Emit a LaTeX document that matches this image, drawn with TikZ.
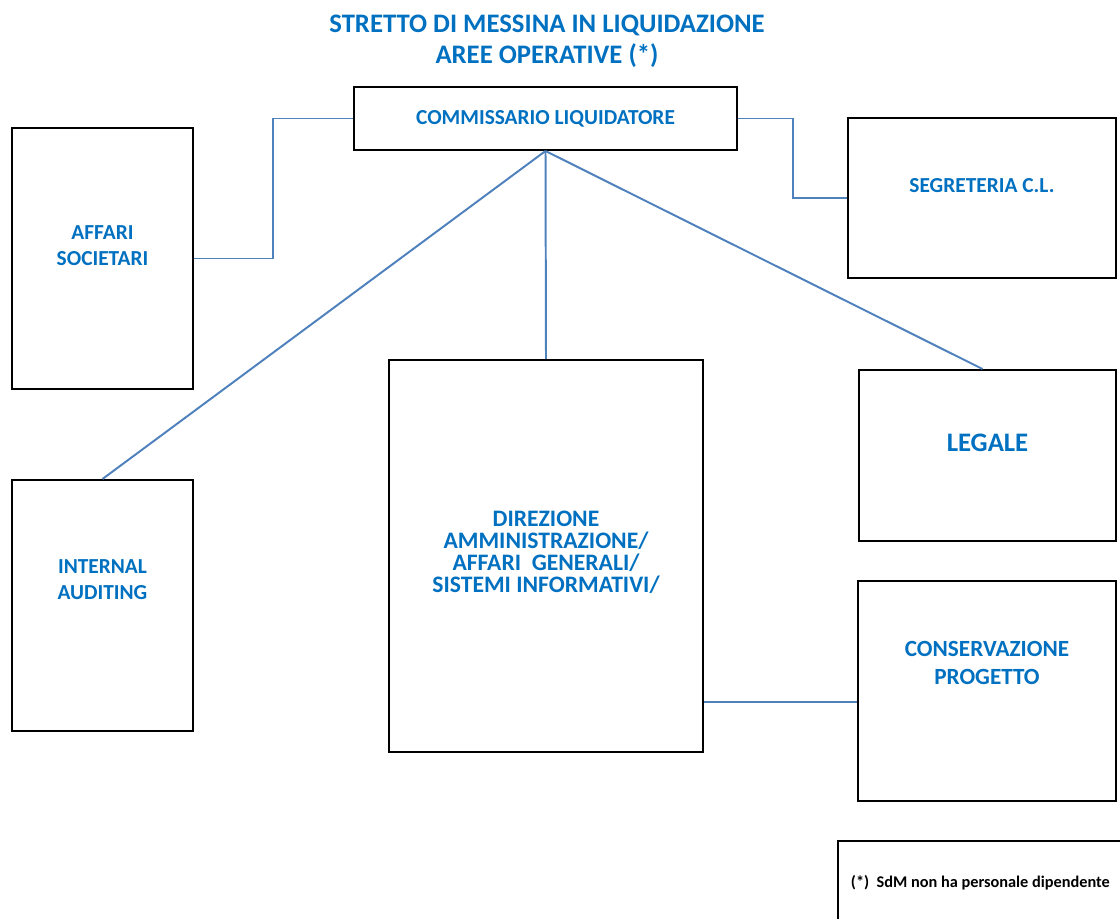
\documentclass[tikz,border=0pt]{standalone}
\usepackage{fontspec}
\setmainfont{Carlito}
\definecolor{orgtext}{RGB}{0,112,192}
\definecolor{orgline}{RGB}{79,129,189}

\begin{document}
\begin{tikzpicture}[x=0.025cm, y=-0.025cm,
    box/.style={draw=black, line width=1.4pt, fill=white, inner sep=0pt},
    lbl/.style={text=orgtext, font=\bfseries\fontsize{15.2}{18.5}\selectfont, align=center},
    link/.style={draw=orgline, line width=1.4pt}]
    \useasboundingbox (0,0) rectangle (1120,919);
    \clip (0,0) rectangle (1120,919);

    \node[text=orgtext, font=\bfseries\fontsize{19}{22}\selectfont, align=center] (title) at (547,41.5)
      {STRETTO DI MESSINA IN LIQUIDAZIONE\\AREE OPERATIVE (*)};

    \node[box, minimum width=9.575cm, minimum height=1.575cm, lbl] (cl) at (545.5,118.5) {COMMISSARIO LIQUIDATORE};
    \node[box, minimum width=4.525cm, minimum height=6.525cm,
      label={[lbl, yshift=0.32cm]center:AFFARI\\SOCIETARI}] (as) at (102.5,258.5) {};
    \node[box, minimum width=6.7cm, minimum height=4cm,
      label={[lbl, yshift=0.32cm]center:SEGRETERIA C.L.}] (seg) at (982,198) {};
    \node[box, minimum width=4.525cm, minimum height=6.275cm,
      label={[lbl, yshift=0.64cm]center:INTERNAL\\AUDITING}] (ia) at (102.5,605.5) {};
    \node[box, minimum width=7.85cm, minimum height=9.8cm,
      label={[lbl, font=\bfseries\fontsize{16.8}{15.6}\selectfont, yshift=0.1cm]center:DIREZIONE\\AMMINISTRAZIONE/\\AFFARI\ \ GENERALI/\\SISTEMI INFORMATIVI/}] (dir) at (546,556) {};
    \node[box, minimum width=6.425cm, minimum height=4.275cm,
      label={[lbl, font=\bfseries\fontsize{19}{22}\selectfont, yshift=0.31cm]center:LEGALE}] (leg) at (987.5,455.5) {};
    \node[box, minimum width=6.45cm, minimum height=5.5cm,
      label={[lbl, font=\bfseries\fontsize{16.5}{20}\selectfont, yshift=0.7cm]center:CONSERVAZIONE\\PROGETTO}] (con) at (987,691) {};

    % nota in basso a destra
    \node[box, line width=0.8pt, minimum width=8.05cm, minimum height=2.975cm] (note) at (999,900.5) {};
    \node[anchor=west, font=\bfseries\fontsize{11.6}{14}\selectfont] (notetxt) at (846,883)
      {(*)\ \ SdM non ha personale dipendente};

    \draw[link] (cl.west) -- ++(-80,0) |- (as.east);
    \draw[link] (cl.east) -- ++(55,0) |- (seg.west);
    \draw[link] (cl.south) -- (ia.north);
    \draw[link] (cl.south) -- (dir.north);
    \draw[link] (cl.south) -- ([xshift=-0.125cm]leg.north);
    \draw[link] (dir.east) ++(0,146) coordinate (dj) -- (dj -| con.west);
\end{tikzpicture}
\end{document}
